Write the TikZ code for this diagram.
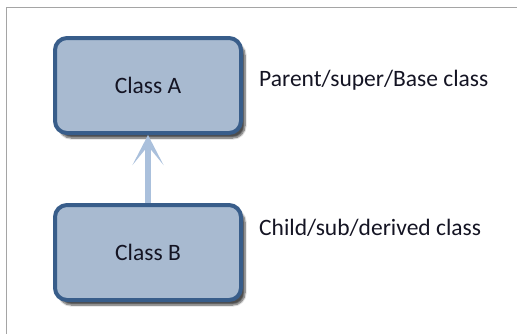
\documentclass[tikz,border=0pt]{standalone}
\usepackage{fontspec}
\setmainfont{Carlito}
\usetikzlibrary{arrows.meta,positioning,shadows.blur}
\definecolor{boxfill}{RGB}{168,186,208}
\definecolor{boxline}{RGB}{56,93,138}
\definecolor{arrowblue}{RGB}{170,192,220}
\definecolor{framegray}{RGB}{165,165,165}
\definecolor{notetext}{RGB}{20,20,35}
\tikzset{
    %style for the class boxes
    classbox/.style={
           rectangle,
           rounded corners=12pt,
           draw=boxline, line width=4pt,
           fill=boxfill,
           minimum width=186pt,
           minimum height=95pt,
           font=\fontsize{23.5}{27}\selectfont,
           text=notetext,
           text centered,
           blur shadow={shadow xshift=4pt, shadow yshift=-5pt,
                        shadow blur steps=8, shadow opacity=70}},
    %style for the side notes
    note/.style={
           inner sep=0pt,
           anchor=base west,
           font=\fontsize{23.5}{27}\selectfont,
           text=notetext},
    % inheritance arrow
    inherit/.style={
           -{Stealth[length=30pt, width=31pt, inset=19pt]},
           draw=arrowblue,
           line width=6pt}
}
\begin{document}
\begin{tikzpicture}[x=1pt,y=-1pt]
\useasboundingbox (0,0) rectangle (517,333);
 %frame
\draw[framegray, line width=1.5pt] (6.5,345) -- (6.5,7.5) -- (530,7.5);
 %nodes
\node[classbox] (clsA) at (148,85.5) {Class A};
\node[classbox, below=68pt of clsA] (clsB) {Class B};
\node[note] (noteA) at (259,86) {Parent/super/Base class};
\node[note] (noteB) at (259,235) {Child/sub/derived class};
 %inheritance
\draw[inherit] (clsB.north) -- (clsA.south);
\end{tikzpicture}
\end{document}
